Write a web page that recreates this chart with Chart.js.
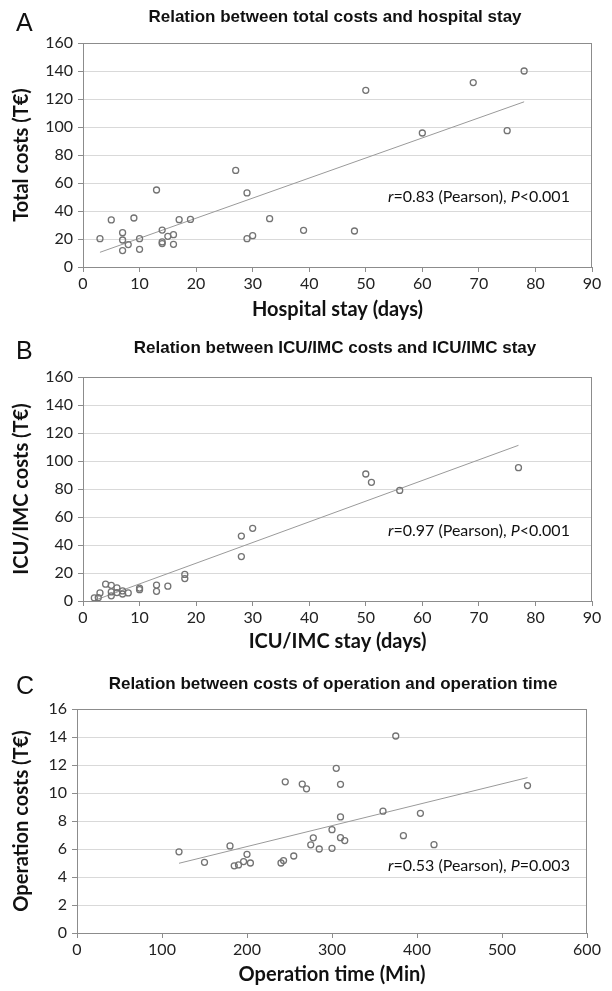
<!DOCTYPE html>
<html>
<head>
<meta charset="utf-8">
<title>Costs vs stay</title>
<script src="https://cdn.jsdelivr.net/npm/chart.js@4.4.0/dist/chart.umd.min.js"></script>
<style>
    body { margin: 0; background: #fff; }
    canvas { display: block; }
</style>
</head>
<body>
<canvas id="chartA" width="612" height="330"></canvas>
<canvas id="chartB" width="612" height="330"></canvas>
<canvas id="chartC" width="612" height="331"></canvas>

<script>
    // A: hospital stay (days) vs total costs (T€)
    let stayA = [3, 5, 7, 7, 7, 8, 9, 10, 10, 13, 14, 14, 14, 15, 16, 16, 17, 19, 27, 29, 29, 30, 33, 39, 48, 50, 60, 69, 75, 78];
    let costA = [20.2, 33.6, 24.5, 19.3, 11.7, 16, 35, 20.2, 12.6, 55, 26.4, 17.9, 16.7, 21.9, 23.1, 16.2, 33.8, 34, 69, 52.9, 20.2, 22.4, 34.5, 26.2, 25.7, 126.2, 95.7, 131.7, 97.4, 140];
    let trendAx = [3, 78];
    let trendAy = [10.5, 118];

    // B: ICU/IMC stay (days) vs ICU/IMC costs (T€)
    let stayB = [2, 2.7, 3, 4, 5, 5, 5, 6, 6, 7, 7, 8, 10, 10, 13, 13, 15, 18, 18, 28, 28, 30, 50, 51, 56, 77];
    let costB = [2.2, 2.4, 5.8, 12, 11.2, 6.5, 3.7, 9.4, 6, 7.2, 5, 5.8, 9.2, 8.1, 11.4, 6.9, 10.6, 19, 16, 46.4, 31.7, 51.9, 90.7, 84.8, 79, 95.2];
    let trendBx = [2, 77];
    let trendBy = [0.4, 111.2];

    // C: operation time (min) vs operation costs (T€)
    let timeC = [120, 150, 180, 185, 190, 196, 200, 204, 240, 243, 245, 255, 265, 270, 275, 278, 285, 300, 300, 305, 310, 310, 310, 315, 360, 375, 384, 404, 420, 530];
    let costC = [5.8, 5.05, 6.22, 4.8, 4.86, 5.1, 5.62, 5.0, 5.0, 5.17, 10.8, 5.5, 10.64, 10.3, 6.3, 6.8, 6.0, 6.05, 7.38, 11.76, 10.62, 8.29, 6.81, 6.6, 8.7, 14.07, 6.95, 8.55, 6.31, 10.53];
    let trendCx = [120, 530];
    let trendCy = [4.98, 11.1];

    const FONT = 'Lato, "Open Sans", sans-serif';
    const TITLE_FONT = '"Liberation Sans", Arial, sans-serif';

    function toPoints(xs, ys) {
        let pts = [];
        for (let i = 0; i < xs.length; i++) {
            pts.push({x: xs[i], y: ys[i]});
        }
        return pts;
    }

    // letter, title, plot border and the r / P note
    const decoPlugin = {
        id: 'deco',
        beforeDatasetsDraw(chart, args, o) {
            let a = chart.chartArea, ctx = chart.ctx;
            ctx.save();
            ctx.strokeStyle = '#8c8c8c';
            ctx.lineWidth = 1;
            ctx.strokeRect(a.left + 0.5, a.top + 0.5, a.right - a.left - 1, a.bottom - a.top);
            ctx.restore();
        },
        afterDraw(chart, args, o) {
            let ctx = chart.ctx;
            ctx.save();
            ctx.fillStyle = '#111';
            ctx.textBaseline = 'middle';

            ctx.font = '25px ' + TITLE_FONT;
            ctx.textAlign = 'left';
            ctx.fillText(o.letter, 16, o.letterY);

            ctx.font = 'bold 17px ' + TITLE_FONT;
            ctx.textAlign = 'center';
            ctx.fillText(o.title, o.titleX, o.titleY);

            ctx.textAlign = 'left';
            let x = o.noteX;
            for (let i = 0; i < o.note.length; i++) {
                ctx.font = (o.note[i][1] ? 'italic ' : '') + '16px ' + FONT;
                ctx.fillText(o.note[i][0], x, o.noteY);
                x += ctx.measureText(o.note[i][0]).width;
            }
            ctx.restore();
        }
    };

    function makePanel(id, p) {
        let H = document.getElementById(id).height;
        return new Chart(document.getElementById(id), {
            type: 'scatter',
            data: {
                datasets: [{
                    data: toPoints(p.xs, p.ys),
                    pointRadius: 3,
                    pointBorderWidth: 1.3,
                    borderColor: '#737373',
                    backgroundColor: 'rgba(255,255,255,0)',
                    pointHoverRadius: 3
                }, {
                    type: 'line',
                    data: toPoints(p.tx, p.ty),
                    borderColor: '#9a9a9a',
                    borderWidth: 1,
                    pointRadius: 0,
                    fill: false
                }]
            },
            options: {
                responsive: false,
                animation: false,
                layout: {padding: {top: p.top, right: 612 - p.right, left: 0, bottom: 0}},
                plugins: {
                    legend: {display: false},
                    tooltip: {enabled: false},
                    deco: p.deco
                },
                scales: {
                    x: {
                        type: 'linear',
                        min: p.xMin, max: p.xMax,
                        ticks: {stepSize: p.xStep, color: '#222', font: {size: 16, family: FONT}, padding: 2, maxRotation: 0},
                        grid: {drawOnChartArea: false, tickLength: 5, tickColor: '#8c8c8c'},
                        border: {color: '#8c8c8c'},
                        title: {display: true, text: p.xTitle, color: '#111', font: {size: 20, weight: 'bold', family: FONT}, padding: {bottom: p.xTitlePad, top: 0}},
                        afterFit: function (s) { s.height = H - p.bottom; }
                    },
                    y: {
                        type: 'linear',
                        min: p.yMin, max: p.yMax,
                        ticks: {stepSize: p.yStep, color: '#222', font: {size: 16, family: FONT}, padding: 5},
                        grid: {color: '#d9d9d9', tickLength: 5, tickColor: '#8c8c8c'},
                        border: {color: '#8c8c8c'},
                        title: {display: true, text: p.yTitle, color: '#111', font: {size: 20, weight: 'bold', family: FONT}, padding: {top: 10, bottom: 0}},
                        afterFit: function (s) { s.width = p.left; }
                    }
                }
            },
            plugins: [decoPlugin]
        });
    }

    makePanel('chartA', {
        xs: stayA, ys: costA, tx: trendAx, ty: trendAy,
        left: 83, right: 592, top: 43, bottom: 267,
        xMin: 0, xMax: 90, xStep: 10, yMin: 0, yMax: 160, yStep: 20,
        xTitle: 'Hospital stay (days)', yTitle: 'Total costs (T€)', xTitlePad: 8,
        deco: {
            letter: 'A', letterY: 24, title: 'Relation between total costs and hospital stay', titleX: 335, titleY: 17,
            note: [['r', true], ['=0.83 (Pearson), ', false], ['P', true], ['<0.001', false]], noteX: 388, noteY: 197
        }
    });

    makePanel('chartB', {
        xs: stayB, ys: costB, tx: trendBx, ty: trendBy,
        left: 83, right: 592, top: 47, bottom: 271,
        xMin: 0, xMax: 90, xStep: 10, yMin: 0, yMax: 160, yStep: 20,
        xTitle: 'ICU/IMC stay (days)', yTitle: 'ICU/IMC costs (T€)', xTitlePad: 6,
        deco: {
            letter: 'B', letterY: 22, title: 'Relation between ICU/IMC costs and ICU/IMC stay', titleX: 335, titleY: 18,
            note: [['r', true], ['=0.97 (Pearson), ', false], ['P', true], ['<0.001', false]], noteX: 388, noteY: 201
        }
    });

    makePanel('chartC', {
        xs: timeC, ys: costC, tx: trendCx, ty: trendCy,
        left: 77, right: 587, top: 49, bottom: 273,
        xMin: 0, xMax: 600, xStep: 100, yMin: 0, yMax: 16, yStep: 2,
        xTitle: 'Operation time (Min)', yTitle: 'Operation costs (T€)', xTitlePad: 4,
        deco: {
            letter: 'C', letterY: 27, title: 'Relation between costs of operation and operation time', titleX: 333, titleY: 24,
            note: [['r', true], ['=0.53 (Pearson), ', false], ['P', true], ['=0.003', false]], noteX: 388, noteY: 206
        }
    });
</script>
</body>
</html>
